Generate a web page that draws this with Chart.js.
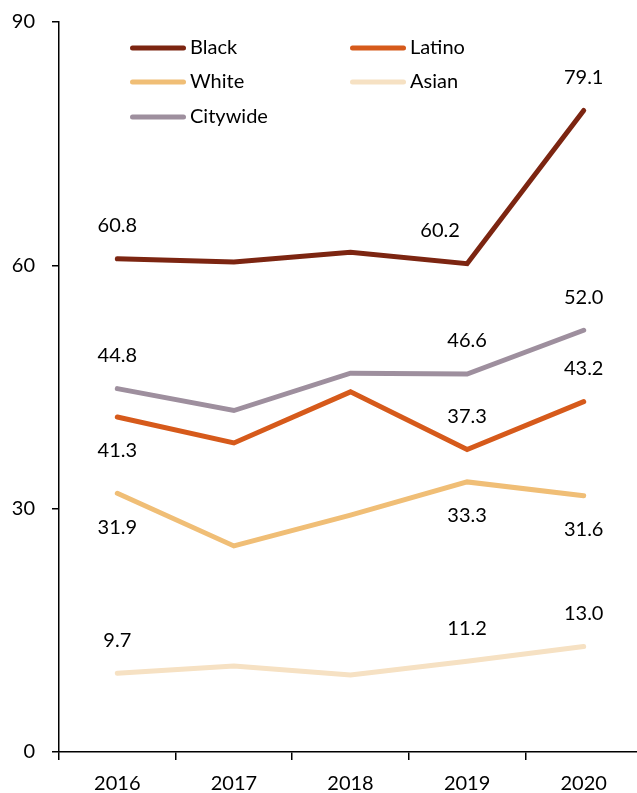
<!DOCTYPE html>
<html>
<head>
<meta charset="utf-8">
<script src="https://cdn.jsdelivr.net/npm/chart.js@4/dist/chart.umd.min.js"></script>
<style>
  html, body { margin: 0; padding: 0; background: #fff; overflow: hidden; }
  canvas { display: block; }
</style>
</head>
<body>
<canvas id="c" width="642" height="793"></canvas>
<script>
// Rates by group, 2016–2020
const years = ['2016', '2017', '2018', '2019', '2020'];
const blackRates = [60.8, 60.4, 61.6, 60.2, 79.1];
const latinoRates = [41.3, 38.1, 44.4, 37.3, 43.2];
const whiteRates = [31.9, 25.4, 29.2, 33.3, 31.6];
const asianRates = [9.7, 10.6, 9.5, 11.2, 13.0];
const citywideRates = [44.8, 42.1, 46.7, 46.6, 52.0];
const yTicks = [0, 30, 60, 90];

const FONT = 'Lato, "Open Sans", sans-serif';
const FONT_SIZE = 20;

// Which points carry a value label, and where it sits relative to the point
const valueLabels = {
  Black:    [{ i: 0, pos: 'above' }, { i: 3, pos: 'above', dx: -27 }, { i: 4, pos: 'above' }],
  Latino:   [{ i: 0, pos: 'below' }, { i: 3, pos: 'above' }, { i: 4, pos: 'above' }],
  White:    [{ i: 0, pos: 'below' }, { i: 3, pos: 'below' }, { i: 4, pos: 'below' }],
  Asian:    [{ i: 0, pos: 'above' }, { i: 3, pos: 'above' }, { i: 4, pos: 'above' }],
  Citywide: [{ i: 0, pos: 'above' }, { i: 3, pos: 'above' }, { i: 4, pos: 'above' }]
};

// Legend layout: two columns, three rows
const legendSlots = {
  Black:    { x: 130, y: 48 },
  Latino:   { x: 350, y: 48 },
  White:    { x: 130, y: 82 },
  Asian:    { x: 350, y: 82 },
  Citywide: { x: 130, y: 117 }
};

function series(label, data, color) {
  return {
    label, data,
    borderColor: color,
    backgroundColor: color,
    borderWidth: 5,
    borderCapStyle: 'round',
    borderJoinStyle: 'miter',
    pointRadius: 0,
    pointHoverRadius: 0,
    tension: 0,
    fill: false
  };
}

const valueLabelPlugin = {
  id: 'valueLabels',
  afterDatasetsDraw(chart) {
    const ctx = chart.ctx;
    ctx.save();
    ctx.font = `${FONT_SIZE}px ${FONT}`;
    ctx.fillStyle = '#000';
    ctx.textAlign = 'center';
    ctx.textBaseline = 'middle';
    chart.data.datasets.forEach((ds, di) => {
      const meta = chart.getDatasetMeta(di);
      (valueLabels[ds.label] || []).forEach(spec => {
        const pt = meta.data[spec.i];
        const off = spec.pos === 'above' ? -33 : 34;
        ctx.fillText(ds.data[spec.i].toFixed(1), pt.x + (spec.dx || 0), pt.y + off);
      });
    });
    ctx.restore();
  }
};

const legendPlugin = {
  id: 'gridLegend',
  afterDraw(chart) {
    const ctx = chart.ctx;
    ctx.save();
    ctx.font = `${FONT_SIZE}px ${FONT}`;
    ctx.textAlign = 'left';
    ctx.textBaseline = 'middle';
    chart.data.datasets.forEach(ds => {
      const s = legendSlots[ds.label];
      if (!s) return;
      ctx.strokeStyle = ds.borderColor;
      ctx.lineWidth = 5;
      ctx.lineCap = 'round';
      ctx.beginPath();
      ctx.moveTo(s.x + 2.5, s.y);
      ctx.lineTo(s.x + 53.5, s.y);
      ctx.stroke();
      ctx.fillStyle = '#000';
      ctx.fillText(ds.label, s.x + 60, s.y);
    });
    ctx.restore();
  }
};

new Chart(document.getElementById('c'), {
  type: 'line',
  data: {
    labels: years,
    datasets: [
      series('Black', blackRates, '#7C2511'),
      series('Latino', latinoRates, '#D65A1B'),
      series('White', whiteRates, '#F0BE76'),
      series('Asian', asianRates, '#F6E1C3'),
      series('Citywide', citywideRates, '#9E8F9E')
    ]
  },
  options: {
    responsive: false,
    devicePixelRatio: 1,
    animation: false,
    layout: { padding: { top: 22, right: 0, bottom: 0, left: 0 } },
    plugins: {
      legend: { display: false },
      tooltip: { enabled: false }
    },
    scales: {
      x: {
        type: 'category',
        offset: true,
        grid: {
          offset: true,
          drawOnChartArea: false,
          drawTicks: true,
          tickLength: 8,
          color: '#000',
          lineWidth: 1.5
        },
        border: { display: true, color: '#000', width: 1.5 },
        ticks: {
          color: '#000',
          font: { family: FONT, size: FONT_SIZE },
          padding: 12,
          maxRotation: 0
        },
        afterFit(scale) {
          scale.height = 41;
          scale.paddingLeft = 0;
          scale.paddingRight = 0;
        }
      },
      y: {
        min: 0,
        max: 90,
        afterBuildTicks(scale) { scale.ticks = yTicks.map(v => ({ value: v })); },
        grid: {
          drawOnChartArea: false,
          drawTicks: true,
          tickLength: 7,
          color: '#000',
          lineWidth: 1.5
        },
        border: { display: true, color: '#000', width: 1.5 },
        ticks: {
          color: '#000',
          font: { family: FONT, size: FONT_SIZE },
          padding: 17
        },
        afterFit(scale) {
          scale.width = 59;
          scale.paddingTop = 0;
          scale.paddingBottom = 0;
        }
      }
    }
  },
  plugins: [valueLabelPlugin, legendPlugin]
});
</script>
</body>
</html>
